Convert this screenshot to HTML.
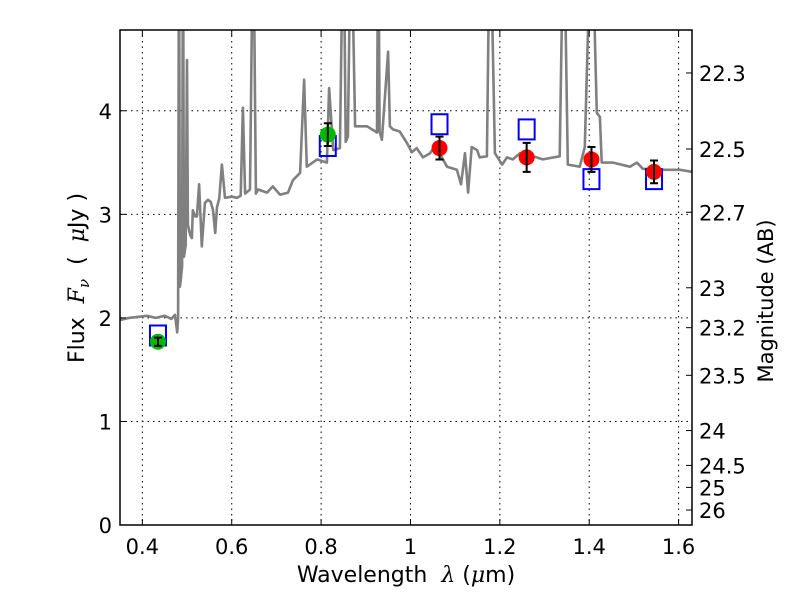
<!DOCTYPE html>
<html><head><meta charset="utf-8"><style>
html,body{margin:0;padding:0;background:#fff;}
svg{display:block;font-family:"DejaVu Sans","Liberation Sans",sans-serif;}
</style></head><body>
<svg id="chart" width="800" height="600" viewBox="0 0 800 600">
<defs><clipPath id="clip"><rect x="120" y="30" width="572" height="495"/></clipPath></defs>
<rect x="0" y="0" width="800" height="600" fill="#fff"/>
<g id="grid"></g>
<g id="spec" clip-path="url(#clip)"></g>
<g id="marks" clip-path="url(#clip)"></g>
<rect x="120" y="30" width="572" height="495" fill="none" stroke="#000" stroke-width="1.5"/>
<g id="axes"></g>
<text x="406" y="582" font-size="22" text-anchor="middle">Wavelength&#160;&#160;<tspan font-family="DejaVu Serif, serif" font-style="italic">λ</tspan>&#160;(<tspan font-family="DejaVu Serif, serif" font-style="italic">μ</tspan>m)</text>
<text transform="translate(84,278) rotate(-90)" font-size="22" text-anchor="middle">Flux&#160;&#160;<tspan font-family="DejaVu Serif, serif" font-style="italic">F<tspan font-size="15" dy="5">ν</tspan></tspan><tspan dy="-5">&#160;&#160;(&#160;&#160;</tspan><tspan font-family="DejaVu Serif, serif" font-style="italic">μ</tspan>Jy&#160;)</text>
<text transform="translate(773,301) rotate(-90)" font-size="21" text-anchor="middle">Magnitude (AB)</text>
</svg>
<script>
const xTicks=[0.4,0.6,0.8,1.0,1.2,1.4,1.6];
const xTickLabels=["0.4","0.6","0.8","1","1.2","1.4","1.6"];
const yTicks=[0,1,2,3,4];
const magTicks=[22.3,22.5,22.7,23,23.2,23.5,24,24.5,25,26];
const specWave=[0.350,0.37,0.39,0.41,0.43,0.45,0.465,0.473,0.478,0.480,0.482,0.484,0.486,0.489,0.491,0.493,0.497,0.500,0.502,0.507,0.511,0.513,0.518,0.522,0.527,0.533,0.540,0.547,0.553,0.558,0.563,0.567,0.572,0.578,0.585,0.60,0.612,0.620,0.625,0.630,0.641,0.648,0.654,0.659,0.679,0.692,0.708,0.726,0.737,0.753,0.762,0.768,0.791,0.813,0.818,0.827,0.842,0.850,0.855,0.860,0.867,0.876,0.903,0.925,0.928,0.931,0.936,0.950,0.954,0.961,0.976,0.992,1.003,1.014,1.028,1.044,1.059,1.070,1.082,1.104,1.113,1.122,1.129,1.137,1.149,1.155,1.171,1.178,1.189,1.205,1.216,1.229,1.245,1.261,1.274,1.296,1.334,1.343,1.352,1.379,1.390,1.405,1.417,1.424,1.428,1.453,1.491,1.507,1.520,1.565,1.603,1.632];
const specFlux=[1.98,2.00,2.01,2.02,2.00,2.02,1.99,2.03,1.86,2.0,6,2.3,2.37,2.5,6,2.59,2.7,4.49,2.9,2.8,2.77,3.04,2.98,2.98,3.29,2.69,3.11,3.14,3.12,3.04,2.82,3.07,3.15,3.48,3.16,3.17,3.16,3.18,4.03,3.2,3.24,6,3.2,3.24,3.21,3.27,3.19,3.21,3.33,3.40,4.30,3.46,3.53,3.50,4.22,3.62,3.64,6,3.7,3.75,6,3.85,3.85,3.79,6,3.8,3.72,4.57,3.85,3.82,3.80,3.69,3.60,3.64,3.55,3.59,3.69,3.55,3.46,3.43,3.29,3.59,3.21,3.65,3.62,3.55,3.56,6,3.59,3.48,3.55,3.53,3.59,3.53,3.56,3.53,3.56,6,3.48,3.46,3.65,6,3.98,3.94,3.50,3.50,3.46,3.50,3.44,3.43,3.43,3.41];
const greenWave=[0.435,0.815];
const greenFlux=[1.77,3.77];
const greenErr=[0.04,0.11];
const redWave=[1.065,1.26,1.405,1.545];
const redFlux=[3.64,3.55,3.53,3.41];
const redErr=[0.11,0.14,0.12,0.11];
const boxWave=[0.435,0.815,1.065,1.26,1.405,1.545];
const boxFlux=[1.83,3.66,3.87,3.82,3.34,3.34];

const X0=120,X1=692,Y0=525,Y1=30,XMIN=0.35,XMAX=1.63,YMIN=0,YMAX=4.78;
const sx=v=>X0+(v-XMIN)/(XMAX-XMIN)*(X1-X0);
const sy=v=>Y0-(v-YMIN)/(YMAX-YMIN)*(Y0-Y1);
const NS="http://www.w3.org/2000/svg";
function mk(tag,attrs,parent){const e=document.createElementNS(NS,tag);for(const k in attrs)e.setAttribute(k,attrs[k]);parent.appendChild(e);return e;}
const grid=document.getElementById('grid'),axes=document.getElementById('axes'),spec=document.getElementById('spec'),marks=document.getElementById('marks');

xTicks.forEach((t,i)=>{const x=sx(t);
 let g=mk('line',{x1:x,x2:x,y1:Y1,y2:Y0,stroke:'#000','stroke-width':1,'stroke-dasharray':'1.5,4'},grid);
 
 
 mk('line',{x1:x,x2:x,y1:Y0,y2:Y0-6,stroke:'#000'},axes);
 mk('line',{x1:x,x2:x,y1:Y1,y2:Y1+6,stroke:'#000'},axes);
 let l=mk('text',{x:x,y:Y0+29,'font-size':21,'text-anchor':'middle'},axes);l.textContent=xTickLabels[i];
 
 
});
yTicks.forEach(t=>{const y=sy(t);
 let g=mk('line',{x1:X0,x2:X1,y1:y,y2:y,stroke:'#000','stroke-width':1,'stroke-dasharray':'1.5,4'},grid);
 
 
 mk('line',{x1:X0,x2:X0+6,y1:y,y2:y,stroke:'#000'},axes);
 let l=mk('text',{x:X0-8,y:y+8,'font-size':21,'text-anchor':'end'},axes);l.textContent=String(t);
 
 
});
magTicks.forEach(m=>{const f=Math.pow(10,(23.9-m)/2.5);const y=sy(f);
 mk('line',{x1:X1,x2:X1-6,y1:y,y2:y,stroke:'#000'},axes);
 let l=mk('text',{x:X1+7,y:y+8,'font-size':21},axes);l.textContent=String(m);
 
 
});
let d=specWave.map((w,i)=>(i?'L':'M')+sx(w).toFixed(1)+' '+sy(specFlux[i]).toFixed(1)).join(' ');
let p=mk('path',{d:d,fill:'none',stroke:'#808080','stroke-width':2.6,'stroke-linejoin':'round'},spec);



boxWave.forEach((w,i)=>{const x=sx(w),y=sy(boxFlux[i]);
 let r=mk('rect',{x:x-8,y:y-10,width:16,height:20,fill:'none',stroke:'#0000ff','stroke-width':2},marks);
 
 
});
function pts(ws,fs,es,col,name){ws.forEach((w,i)=>{const x=sx(w),y=sy(fs[i]);
 let c=mk('circle',{cx:x,cy:y,r:8,fill:col},marks);
 
 
 const ya=sy(fs[i]+es[i]),yb=sy(fs[i]-es[i]);
 let e=mk('path',{d:`M${x} ${ya}L${x} ${yb}M${x-4} ${ya}L${x+4} ${ya}M${x-4} ${yb}L${x+4} ${yb}`,stroke:'#000','stroke-width':2,fill:'none'},marks);
 
 
});}
pts(greenWave,greenFlux,greenErr,'#00bb00','green-photometry-point');
pts(redWave,redFlux,redErr,'#ff0000','red-photometry-point');
</script>
</body></html>
